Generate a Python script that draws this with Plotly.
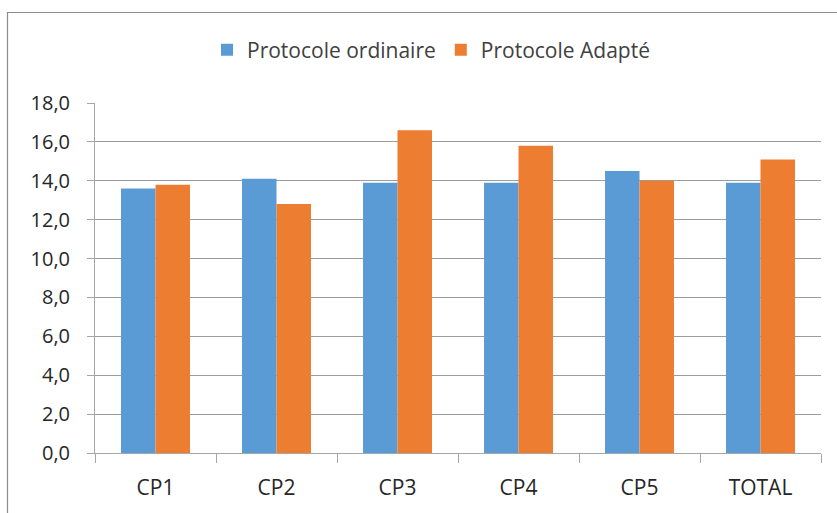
import plotly.graph_objects as go

categories = ["CP1", "CP2", "CP3", "CP4", "CP5", "TOTAL"]
ordinaire = [13.6, 14.1, 13.9, 13.9, 14.5, 13.9]
adapte = [13.8, 12.8, 16.6, 15.8, 14.0, 15.1]
series_names = ["Protocole ordinaire", "Protocole Adapté"]
y_ticks = [0, 2, 4, 6, 8, 10, 12, 14, 16, 18]

BLUE = "#5B9BD5"
ORANGE = "#ED7D31"
FONT = "'Open Sans', sans-serif"

fig = go.Figure()
fig.add_trace(go.Bar(x=categories, y=ordinaire, name=series_names[0],
                     marker=dict(color=BLUE, line=dict(width=0))))
fig.add_trace(go.Bar(x=categories, y=adapte, name=series_names[1],
                     marker=dict(color=ORANGE, line=dict(width=0))))

L, R, T, B = 95, 16, 103, 60
W, H = 837, 513
pw = W - L - R
ph = H - T - B

def px_to_paper_x(px):
    return (px - L) / pw

def px_to_paper_y(py):
    return 1 - (py - T) / ph

fig.update_layout(
    width=W, height=H,
    margin=dict(l=L, r=R, t=T, b=B),
    paper_bgcolor="white", plot_bgcolor="white",
    barmode="group", bargap=0.43, bargroupgap=0,
    separators=", ",
    font=dict(family=FONT, color="#404040", size=20),
    showlegend=True,
    legend=dict(orientation="h", x=px_to_paper_x(431), xanchor="center",
                y=px_to_paper_y(50), yanchor="middle",
                font=dict(size=21, color="#404040"),
                itemwidth=30, traceorder="normal"),
    xaxis=dict(showline=True, linecolor="#A6A6A6", linewidth=1,
               ticks="outside", tickson="boundaries", ticklen=9,
               tickcolor="#A6A6A6", showgrid=False, ticklabelstandoff=16,
               tickfont=dict(size=21, color="#262626")),
    yaxis=dict(range=[0, 18], tickvals=y_ticks, tickformat=".1f",
               showline=True, linecolor="#A6A6A6", linewidth=1,
               ticks="outside", ticklen=7, tickcolor="#A6A6A6",
               showgrid=True, gridcolor="#9C9C9C", gridwidth=1.2,
               zeroline=False, ticklabelstandoff=13,
               tickfont=dict(size=20, color="#262626")),
)

# chart-area border (left and top visible, extends off canvas)
fig.add_shape(type="rect", xref="paper", yref="paper",
              x0=px_to_paper_x(7.5), x1=px_to_paper_x(900),
              y0=px_to_paper_y(600), y1=px_to_paper_y(12.5),
              line=dict(color="#8C8C8C", width=1.2), layer="below")

fig.write_html("out.html", config={"displayModeBar": False},
               post_script="document.body.style.margin='0';")
